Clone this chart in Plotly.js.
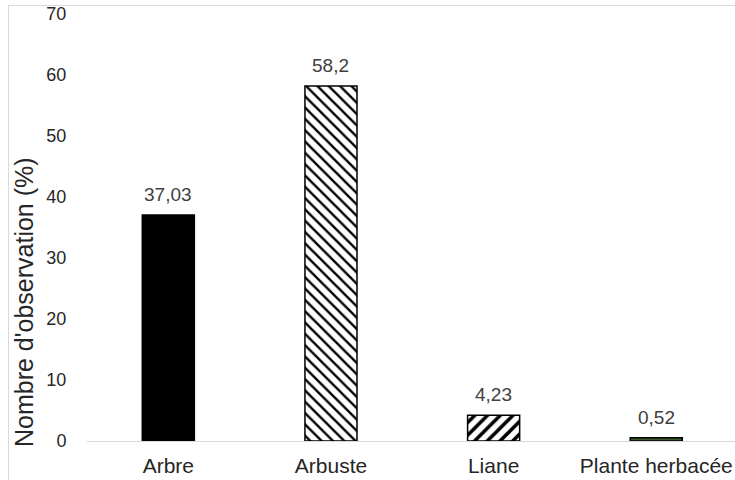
<!DOCTYPE html>
<html>
<head>
<meta charset="utf-8">
<script src="https://cdn.plot.ly/plotly-3.0.1.min.js"></script>
<style>
  html, body { margin: 0; padding: 0; background: #fff; }
  #frame { position: absolute; left: 8px; top: 5px; width: 740px; height: 480px;
           border-left: 1px solid #d9d9d9; border-top: 1px solid #d9d9d9; pointer-events: none; }
  #chart { width: 735px; height: 480px; }
</style>
</head>
<body>
<div id="chart"></div>
<div id="frame"></div>
<script>
// Plant life forms and share of observations (%)
const categories = ['Arbre', 'Arbuste', 'Liane', 'Plante herbacée'];
const values = [37.03, 58.2, 4.23, 0.52];
const yTicks = [0, 10, 20, 30, 40, 50, 60, 70];

// Fill style per life form
const fillColors = ['#000000', '#ffffff', '#ffffff', '#3d5a2c'];
const patternShapes = ['', '\\', '/', ''];
const patternSizes = [8, 8, 9, 8];
const patternSolidity = [0.3, 0.3, 0.4, 0.3];

const FONT = 'Liberation Sans, Arial, sans-serif';
const labels = values.map(v => String(v).replace('.', ','));

// one trace per category so each bar gets its own fill pattern
const traces = categories.map((c, i) => ({
  type: 'bar',
  x: [c],
  y: [values[i]],
  width: 0.32,
  marker: {
    color: fillColors[i],
    line: { color: '#000000', width: 1.5 },
    pattern: {
      shape: patternShapes[i],
      size: patternSizes[i],
      solidity: patternSolidity[i],
      fgcolor: '#000000',
      bgcolor: fillColors[i]
    }
  },
  hoverinfo: 'none'
}));

// value labels above each bar
const valueAnnotations = categories.map((c, i) => ({
  x: c, y: values[i], xref: 'x', yref: 'y',
  text: labels[i], showarrow: false,
  yanchor: 'bottom', yshift: 8,
  font: { family: FONT, size: 19, color: '#404040' }
}));

const layout = {
  width: 735,
  height: 480,
  margin: { l: 87, r: 0, t: 14, b: 39 },
  paper_bgcolor: '#ffffff',
  plot_bgcolor: '#ffffff',
  showlegend: false,
  barmode: 'overlay',
  font: { family: FONT, color: '#404040' },
  xaxis: {
    type: 'category',
    categoryarray: categories,
    range: [-0.5, 3.484],
    showgrid: false,
    showline: true,
    linecolor: '#d9d9d9',
    linewidth: 1,
    ticks: 'outside',
    ticklen: 6,
    tickcolor: 'rgba(0,0,0,0)',
    tickfont: { size: 21, color: '#262626' },
    fixedrange: true
  },
  yaxis: {
    range: [0, 70],
    tickvals: yTicks,
    ticktext: yTicks.map(String),
    showgrid: false,
    zeroline: false,
    showline: false,
    ticks: 'outside',
    ticklen: 16,
    tickcolor: 'rgba(0,0,0,0)',
    tickfont: { size: 18, color: '#262626' },
    fixedrange: true
  },
  annotations: valueAnnotations.concat([{
    text: "Nombre d'observation (%)",
    xref: 'paper', yref: 'paper',
    x: -0.0972, y: 0.3255,
    xanchor: 'center', yanchor: 'middle',
    textangle: -90, showarrow: false,
    font: { family: FONT, size: 25, color: '#262626' }
  }])
};

Plotly.newPlot('chart', traces, layout, { displayModeBar: false, staticPlot: true });
</script>
</body>
</html>
